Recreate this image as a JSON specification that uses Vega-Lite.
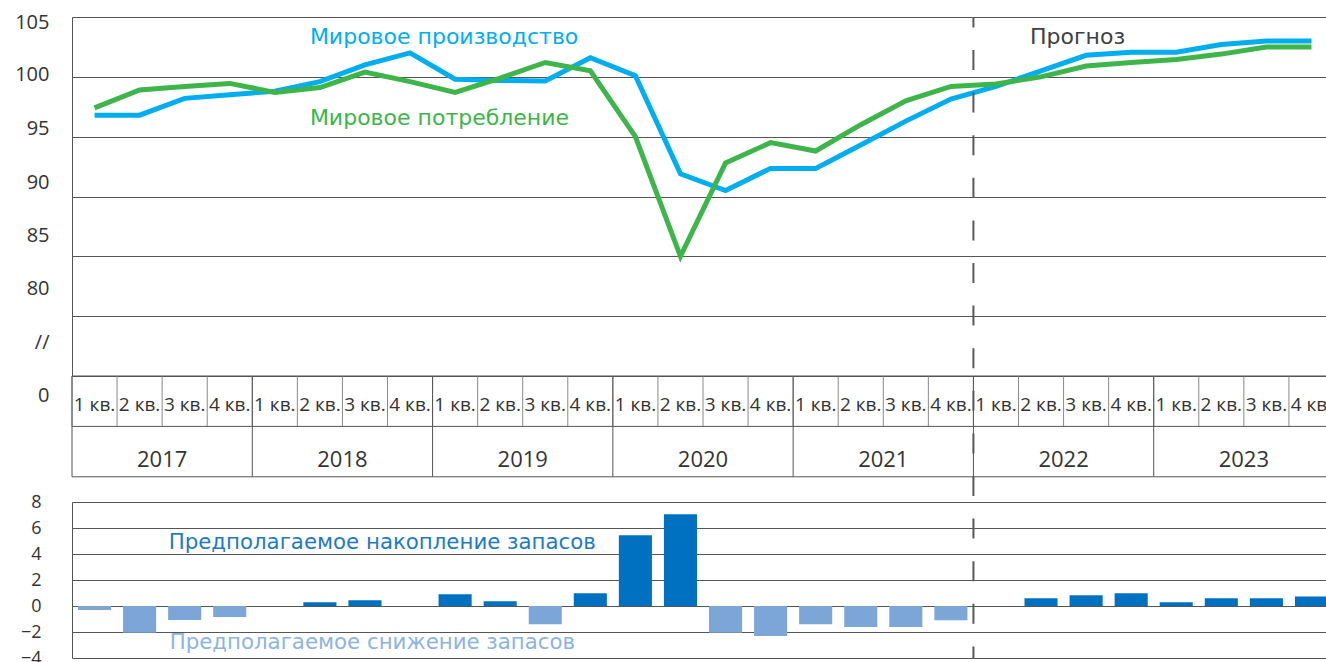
{
  "$schema": "https://vega.github.io/schema/vega-lite/v6.json",
  "padding": {"left": 0, "top": 12, "right": 0, "bottom": 0},
  "background": "white",
  "spacing": 0,
  "bounds": "flush",
  "config": {
    "view": {"stroke": null},
    "axis": {"labelFont": "Open Sans", "labelColor": "#333333", "title": null}
  },
  "resolve": {"scale": {"x": "independent", "y": "independent"}},
  "datasets": {
    "quarters": [
      {"q": "2017-1", "ql": "1 кв.", "prod": 96.8, "cons": 97.4, "stock": -0.3},
      {"q": "2017-2", "ql": "2 кв.", "prod": 96.8, "cons": 98.9, "stock": -2.05},
      {"q": "2017-3", "ql": "3 кв.", "prod": 98.2, "cons": 99.2, "stock": -1.08},
      {"q": "2017-4", "ql": "4 кв.", "prod": 98.5, "cons": 99.45, "stock": -0.85},
      {"q": "2018-1", "ql": "1 кв.", "prod": 98.8, "cons": 98.7, "stock": 0},
      {"q": "2018-2", "ql": "2 кв.", "prod": 99.6, "cons": 99.1, "stock": 0.28},
      {"q": "2018-3", "ql": "3 кв.", "prod": 101.0, "cons": 100.4, "stock": 0.44},
      {"q": "2018-4", "ql": "4 кв.", "prod": 102.0, "cons": 99.6, "stock": 0},
      {"q": "2019-1", "ql": "1 кв.", "prod": 99.8, "cons": 98.7, "stock": 0.9},
      {"q": "2019-2", "ql": "2 кв.", "prod": 99.7, "cons": 99.9, "stock": 0.36},
      {"q": "2019-3", "ql": "3 кв.", "prod": 99.65, "cons": 101.2, "stock": -1.41},
      {"q": "2019-4", "ql": "4 кв.", "prod": 101.6, "cons": 100.5, "stock": 0.98},
      {"q": "2020-1", "ql": "1 кв.", "prod": 100.1, "cons": 95.0, "stock": 5.44},
      {"q": "2020-2", "ql": "2 кв.", "prod": 91.9, "cons": 85.0, "stock": 7.05},
      {"q": "2020-3", "ql": "3 кв.", "prod": 90.5, "cons": 92.8, "stock": -2.05},
      {"q": "2020-4", "ql": "4 кв.", "prod": 92.35, "cons": 94.5, "stock": -2.31},
      {"q": "2021-1", "ql": "1 кв.", "prod": 92.35, "cons": 93.8, "stock": -1.41},
      {"q": "2021-2", "ql": "2 кв.", "prod": 94.3, "cons": 96.0, "stock": -1.62},
      {"q": "2021-3", "ql": "3 кв.", "prod": 96.3, "cons": 98.0, "stock": -1.62},
      {"q": "2021-4", "ql": "4 кв.", "prod": 98.15, "cons": 99.2, "stock": -1.1},
      {"q": "2022-1", "ql": "1 кв.", "prod": 99.2, "cons": 99.4, "stock": 0},
      {"q": "2022-2", "ql": "2 кв.", "prod": 100.5, "cons": 100.0, "stock": 0.59},
      {"q": "2022-3", "ql": "3 кв.", "prod": 101.8, "cons": 100.9, "stock": 0.82},
      {"q": "2022-4", "ql": "4 кв.", "prod": 102.05, "cons": 101.2, "stock": 0.98},
      {"q": "2023-1", "ql": "1 кв.", "prod": 102.05, "cons": 101.45, "stock": 0.28},
      {"q": "2023-2", "ql": "2 кв.", "prod": 102.7, "cons": 101.9, "stock": 0.59},
      {"q": "2023-3", "ql": "3 кв.", "prod": 103.0, "cons": 102.5, "stock": 0.59},
      {"q": "2023-4", "ql": "4 кв.", "prod": 103.0, "cons": 102.5, "stock": 0.74}
    ],
    "years": [
      {"year": "2017", "first": "2017-1", "mid": "2017-2"},
      {"year": "2018", "first": "2018-1", "mid": "2018-2"},
      {"year": "2019", "first": "2019-1", "mid": "2019-2"},
      {"year": "2020", "first": "2020-1", "mid": "2020-2"},
      {"year": "2021", "first": "2021-1", "mid": "2021-2"},
      {"year": "2022", "first": "2022-1", "mid": "2022-2"},
      {"year": "2023", "first": "2023-1", "mid": "2023-2"}
    ],
    "forecast": [{"q": "2022-1"}]
  },
  "vconcat": [
    {
      "width": 1254,
      "height": 359,
      "layer": [
        {
          "data": {"name": "quarters"},
          "transform": [{"fold": ["prod", "cons"], "as": ["series", "value"]}],
          "mark": {"type": "line", "strokeWidth": 5},
          "encoding": {
            "x": {"field": "q", "type": "ordinal", "bandPosition": 0.5,
                  "scale": {"type": "band", "domain": ["2017-1","2017-2","2017-3","2017-4","2018-1","2018-2","2018-3","2018-4","2019-1","2019-2","2019-3","2019-4","2020-1","2020-2","2020-3","2020-4","2021-1","2021-2","2021-3","2021-4","2022-1","2022-2","2022-3","2022-4","2023-1","2023-2","2023-3","2023-4"], "range": [0, 1262], "paddingInner": 0, "paddingOuter": 0},
                  "axis": null},
            "y": {"field": "value", "type": "quantitative",
                  "scale": {"domain": [75, 105], "nice": false, "zero": false},
                  "axis": {"values": [75, 80, 85, 90, 95, 100, 105], "grid": true, "gridColor": "#555555", "gridWidth": 1,
                           "domain": true, "domainColor": "#555555", "domainWidth": 1, "ticks": false,
                           "labelPadding": 23, "labelFontSize": 20, "labelFlush": false, "labelOverlap": false,
                           "labelExpr": "datum.value == 75 ? '//' : datum.label",
                           "labelOffset": {"condition": [
                             {"test": "datum.value == 105", "value": 5},
                             {"test": "datum.value == 100", "value": -2},
                             {"test": "datum.value == 95", "value": -8},
                             {"test": "datum.value == 90", "value": -14},
                             {"test": "datum.value == 85", "value": -21},
                             {"test": "datum.value == 80", "value": -28},
                             {"test": "datum.value == 75", "value": -34}
                           ], "value": 0},
                           "minExtent": 72, "maxExtent": 72}},
            "color": {"field": "series", "type": "nominal",
                      "scale": {"domain": ["prod", "cons"], "range": ["#00AEEF", "#3DB54A"]}, "legend": null}
          }
        },
        {
          "data": {"name": "forecast"},
          "mark": {"type": "rule", "color": "#595959", "strokeWidth": 2, "strokeDash": [20, 22.6], "strokeDashOffset": 9.6},
          "encoding": {"x": {"field": "q", "type": "ordinal", "bandPosition": 0}}
        },
        {
          "data": {"values": [
            {"q": "2018-2", "v": 103.35, "label": "Мировое производство", "series": "prod"},
            {"q": "2018-2", "v": 96.6, "label": "Мировое потребление", "series": "cons"}
          ]},
          "mark": {"type": "text", "align": "left", "baseline": "middle", "dx": -10, "font": "DejaVu Sans", "fontSize": 22},
          "encoding": {
            "x": {"field": "q", "type": "ordinal", "bandPosition": 0.5},
            "y": {"field": "v", "type": "quantitative"},
            "text": {"field": "label"},
            "color": {"field": "series", "type": "nominal"}
          }
        },
        {
          "data": {"values": [{"q": "2022-2", "v": 103.35, "label": "Прогноз"}]},
          "mark": {"type": "text", "align": "left", "baseline": "middle", "dx": -11, "font": "DejaVu Sans", "fontSize": 22, "color": "#404040"},
          "encoding": {
            "x": {"field": "q", "type": "ordinal", "bandPosition": 0.5},
            "y": {"field": "v", "type": "quantitative"},
            "text": {"field": "label"}
          }
        }
      ]
    },
    {
      "width": 1254,
      "height": 126,
      "layer": [
        {
          "data": {"name": "quarters"},
          "mark": {"type": "text", "baseline": "middle", "dy": 4, "font": "Open Sans", "fontSize": 19, "color": "#333333", "clip": true},
          "encoding": {
            "x": {"field": "q", "type": "ordinal", "bandPosition": 0.5,
                  "scale": {"type": "band", "domain": ["2017-1","2017-2","2017-3","2017-4","2018-1","2018-2","2018-3","2018-4","2019-1","2019-2","2019-3","2019-4","2020-1","2020-2","2020-3","2020-4","2021-1","2021-2","2021-3","2021-4","2022-1","2022-2","2022-3","2022-4","2023-1","2023-2","2023-3","2023-4"], "range": [0, 1262], "paddingInner": 0, "paddingOuter": 0},
                  "axis": null},
            "y": {"datum": 0.5, "type": "quantitative",
                  "scale": {"domain": [0, 2.5], "reverse": true, "nice": false, "zero": false},
                  "axis": {"values": [0.5], "labelExpr": "'0'", "grid": false, "domain": false, "ticks": false,
                           "labelPadding": 23, "labelFontSize": 20, "labelOffset": -6, "labelFlush": false,
                           "minExtent": 72, "maxExtent": 72}},
            "text": {"field": "ql"}
          }
        },
        {
          "data": {"name": "years"},
          "mark": {"type": "text", "baseline": "middle", "dy": 8, "font": "Open Sans", "fontSize": 22, "color": "#333333"},
          "encoding": {
            "x": {"field": "mid", "type": "ordinal", "bandPosition": 1},
            "y": {"datum": 1.5, "type": "quantitative"},
            "text": {"field": "year"}
          }
        },
        {
          "data": {"name": "quarters"},
          "mark": {"type": "rule", "color": "#8a8a8a", "strokeWidth": 1},
          "encoding": {
            "x": {"field": "q", "type": "ordinal", "bandPosition": 0},
            "y": {"datum": 0, "type": "quantitative"},
            "y2": {"datum": 1}
          }
        },
        {
          "data": {"name": "years"},
          "mark": {"type": "rule", "color": "#555555", "strokeWidth": 1},
          "encoding": {
            "x": {"field": "first", "type": "ordinal", "bandPosition": 0},
            "y": {"datum": 0, "type": "quantitative"},
            "y2": {"datum": 2}
          }
        },
        {
          "data": {"values": [{"h": 0}, {"h": 1}, {"h": 2}]},
          "mark": {"type": "rule", "color": "#555555", "strokeWidth": 1},
          "encoding": {"y": {"field": "h", "type": "quantitative"}}
        },
        {
          "data": {"name": "forecast"},
          "mark": {"type": "rule", "color": "#595959", "strokeWidth": 2, "strokeDash": [20, 22.6], "strokeDashOffset": 27.8},
          "encoding": {"x": {"field": "q", "type": "ordinal", "bandPosition": 0}}
        }
      ]
    },
    {
      "width": 1254,
      "height": 156,
      "layer": [
        {
          "data": {"name": "quarters"},
          "mark": {"type": "bar", "clip": true},
          "encoding": {
            "x": {"field": "q", "type": "ordinal",
                  "scale": {"type": "band", "domain": ["2017-1","2017-2","2017-3","2017-4","2018-1","2018-2","2018-3","2018-4","2019-1","2019-2","2019-3","2019-4","2020-1","2020-2","2020-3","2020-4","2021-1","2021-2","2021-3","2021-4","2022-1","2022-2","2022-3","2022-4","2023-1","2023-2","2023-3","2023-4"], "range": [0, 1262], "paddingInner": 0.266, "paddingOuter": 0.133},
                  "axis": null},
            "y": {"field": "stock", "type": "quantitative",
                  "scale": {"domain": [-4, 8], "nice": false},
                  "axis": {"values": [-4, -2, 0, 2, 4, 6, 8], "grid": true, "gridColor": "#555555", "gridWidth": 1,
                           "domain": true, "domainColor": "#555555", "ticks": false,
                           "labelPadding": 31, "labelFontSize": 18, "labelFlush": false, "labelOverlap": false,
                           "minExtent": 72, "maxExtent": 72}},
            "color": {"condition": {"test": "datum.stock < 0", "value": "#7DA6D8"}, "value": "#0070C0"}
          }
        },
        {
          "data": {"values": [
            {"q": "2017-3", "stock": 4.88, "label": "Предполагаемое накопление запасов"}
          ]},
          "mark": {"type": "text", "align": "left", "baseline": "middle", "dx": -16, "font": "DejaVu Sans", "fontSize": 21.3, "color": "#1F7AC3"},
          "encoding": {
            "x": {"field": "q", "type": "ordinal", "bandPosition": 0.5},
            "y": {"field": "stock", "type": "quantitative",
                  "axis": {"values": [-4, -2, 0, 2, 4, 6, 8], "grid": true, "gridColor": "#555555", "gridWidth": 1,
                           "domain": true, "domainColor": "#555555", "ticks": false,
                           "labelPadding": 31, "labelFontSize": 18, "labelFlush": false, "labelOverlap": false,
                           "minExtent": 72, "maxExtent": 72}},
            "text": {"field": "label"}
          }
        },
        {
          "data": {"values": [
            {"q": "2017-3", "stock": -2.85, "label": "Предполагаемое снижение запасов"}
          ]},
          "mark": {"type": "text", "align": "left", "baseline": "middle", "dx": -15, "font": "DejaVu Sans", "fontSize": 21.3, "color": "#8DB3E2"},
          "encoding": {
            "x": {"field": "q", "type": "ordinal", "bandPosition": 0.5},
            "y": {"field": "stock", "type": "quantitative",
                  "axis": {"values": [-4, -2, 0, 2, 4, 6, 8], "grid": true, "gridColor": "#555555", "gridWidth": 1,
                           "domain": true, "domainColor": "#555555", "ticks": false,
                           "labelPadding": 31, "labelFontSize": 18, "labelFlush": false, "labelOverlap": false,
                           "minExtent": 72, "maxExtent": 72}},
            "text": {"field": "label"}
          }
        },
        {
          "data": {"name": "forecast"},
          "mark": {"type": "rule", "color": "#595959", "strokeWidth": 2, "strokeDash": [20, 22.6], "strokeDashOffset": 26},
          "encoding": {"x": {"field": "q", "type": "ordinal", "bandPosition": -0.181}}
        }
      ]
    }
  ]
}
